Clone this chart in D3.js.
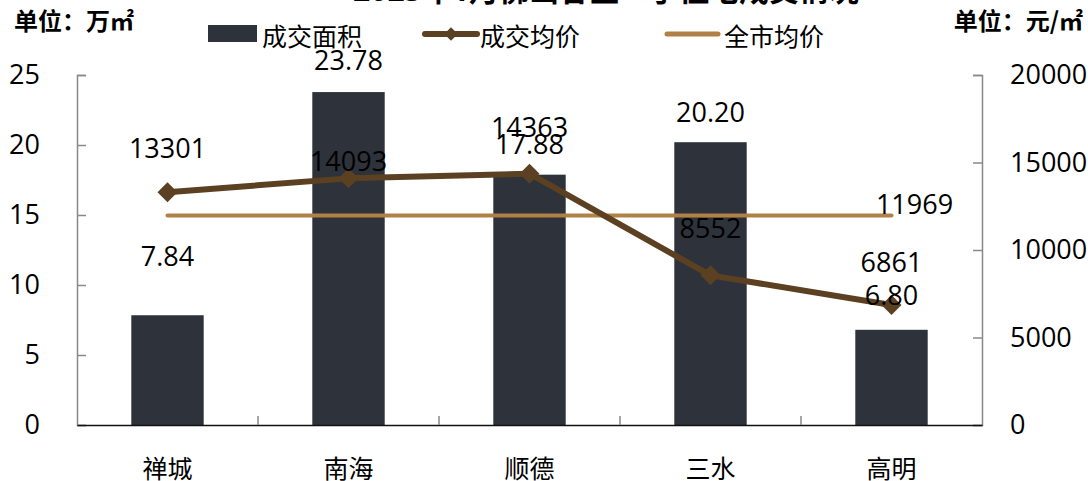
<!DOCTYPE html>
<html>
<head>
<meta charset="utf-8">
<script src="https://cdn.jsdelivr.net/npm/d3@7"></script>
<style>
  body { margin: 0; background: #fff; }
  text { font-family: "Open Sans", "Noto Sans CJK SC", sans-serif; }
</style>
</head>
<body>
<div id="chart"></div>
<script>
// Chart data
const categories = ['禅城', '南海', '顺德', '三水', '高明'];
const areaValues = [7.84, 23.78, 17.88, 20.20, 6.80];      // 成交面积, 万㎡
const priceValues = [13301, 14093, 14363, 8552, 6861];     // 成交均价, 元/㎡
const cityAverage = [11969, 11969, 11969, 11969, 11969];   // 全市均价
const leftTicks = [0, 5, 10, 15, 20, 25];
const rightTicks = [0, 5000, 10000, 15000, 20000];
const legendNames = ['成交面积', '成交均价', '全市均价'];

// label nudges (px above the mark) – hand placed in the original
const areaLabelLift = [59, 32, 30, 30, 34];
const priceLabelLift = [44, 17, 46, 47, 42];

const width = 1088, height = 481;
const plot = {left: 77, right: 982, top: 75, bottom: 425};

const barColor = '#2e323b';
const priceColor = '#5b4122';
const avgColor = '#b08046';

const svg = d3.select('#chart')
    .append('svg')
    .attr('width', width)
    .attr('height', height);

// Scales
const x = d3.scaleBand()
    .domain(categories)
    .range([plot.left, plot.right])
    .paddingInner(0.6)
    .paddingOuter(0.3);

const yLeft = d3.scaleLinear().domain([0, 25]).range([plot.bottom, plot.top]);
const yRight = d3.scaleLinear().domain([0, 20000]).range([plot.bottom, plot.top]);
const cx = d => x(d) + x.bandwidth() / 2;

// Title (cut off by the top edge in the original)
svg.append('text')
    .attr('x', 606)
    .attr('y', 1)
    .attr('text-anchor', 'middle')
    .style('font-size', '30px')
    .style('font-weight', 'bold')
    .text('2023年1月佛山各区一手住宅成交情况');

// Bars
svg.selectAll('.bar')
    .data(areaValues)
    .enter().append('rect')
    .attr('class', 'bar')
    .attr('x', (d, i) => x(categories[i]))
    .attr('y', d => yLeft(d))
    .attr('width', x.bandwidth())
    .attr('height', d => yLeft(0) - yLeft(d))
    .attr('fill', barColor);

// Left axis
const leftAxis = svg.append('g')
    .attr('transform', `translate(${plot.left},0)`)
    .call(d3.axisLeft(yLeft).tickValues(leftTicks).tickSize(-9).tickPadding(37));
leftAxis.select('.domain').attr('stroke', '#888').attr('stroke-width', 1.5);
leftAxis.selectAll('.tick line').attr('stroke', '#888').attr('stroke-width', 1.5);
leftAxis.selectAll('.tick text').style('font-size', '27px').attr('fill', '#000')
    .style('font-family', '"Open Sans", sans-serif');

// Right axis
const rightAxis = svg.append('g')
    .attr('transform', `translate(${plot.right},0)`)
    .call(d3.axisRight(yRight).tickValues(rightTicks).tickFormat(d3.format('d'))
        .tickSize(-9).tickPadding(28));
rightAxis.select('.domain').attr('stroke', '#888').attr('stroke-width', 1.5);
rightAxis.selectAll('.tick line').attr('stroke', '#888').attr('stroke-width', 1.5);
rightAxis.selectAll('.tick text').style('font-size', '27px').attr('fill', '#000')
    .style('font-family', '"Open Sans", sans-serif');

// Bottom axis: labels from the band scale, ticks on band boundaries
const bottomAxis = svg.append('g')
    .attr('transform', `translate(0,${plot.bottom})`)
    .call(d3.axisBottom(x).tickSize(0).tickPadding(35));
bottomAxis.select('.domain').attr('stroke', '#111').attr('stroke-width', 1.5);
bottomAxis.selectAll('.tick text').style('font-size', '25px').attr('fill', '#000')
    .style('font-family', '"Noto Sans CJK SC", sans-serif');

const boundaries = categories.slice(1).map(c => x(c) - x.step() * x.paddingInner() / 2);
svg.selectAll('.xtick')
    .data(boundaries)
    .enter().append('line')
    .attr('class', 'xtick')
    .attr('x1', d => d).attr('x2', d => d)
    .attr('y1', plot.bottom).attr('y2', plot.bottom - 9)
    .attr('stroke', '#888')
    .attr('stroke-width', 1.5);

// City average line
const avgLine = d3.line()
    .x((d, i) => cx(categories[i]))
    .y(d => yRight(d));

svg.append('path')
    .datum(cityAverage)
    .attr('d', avgLine)
    .attr('fill', 'none')
    .attr('stroke', avgColor)
    .attr('stroke-width', 4)
    .attr('stroke-linecap', 'round');

// Price line
svg.append('path')
    .datum(priceValues)
    .attr('d', avgLine)
    .attr('fill', 'none')
    .attr('stroke', priceColor)
    .attr('stroke-width', 6)
    .attr('stroke-linejoin', 'round');

const diamond = d3.symbol().type(d3.symbolSquare).size(200);
svg.selectAll('.marker')
    .data(priceValues)
    .enter().append('path')
    .attr('class', 'marker')
    .attr('d', diamond)
    .attr('transform', (d, i) => `translate(${cx(categories[i])},${yRight(d)}) rotate(45)`)
    .attr('fill', priceColor);

// Data labels
svg.selectAll('.area-label')
    .data(areaValues)
    .enter().append('text')
    .attr('class', 'area-label')
    .attr('x', (d, i) => cx(categories[i]))
    .attr('y', (d, i) => yLeft(d) - areaLabelLift[i])
    .attr('dy', '0.35em')
    .attr('text-anchor', 'middle')
    .style('font-size', '27px')
    .text(d => d.toFixed(2));

svg.selectAll('.price-label')
    .data(priceValues)
    .enter().append('text')
    .attr('class', 'price-label')
    .attr('x', (d, i) => cx(categories[i]))
    .attr('y', (d, i) => yRight(d) - priceLabelLift[i])
    .attr('dy', '0.35em')
    .attr('text-anchor', 'middle')
    .style('font-size', '27px')
    .text(d => d);

const lastIdx = cityAverage.length - 1;
svg.append('text')
    .attr('x', cx(categories[lastIdx]) + 23)
    .attr('y', yRight(cityAverage[lastIdx]) - 11)
    .attr('dy', '0.35em')
    .attr('text-anchor', 'middle')
    .style('font-size', '27px')
    .text(cityAverage[lastIdx]);

// Legend
const legend = svg.append('g').style('font-family', '"Noto Sans CJK SC", sans-serif');
legend.append('rect')
    .attr('x', 208).attr('y', 25)
    .attr('width', 49).attr('height', 17)
    .attr('fill', barColor);
legend.append('text').attr('x', 262).attr('y', 37).attr('dy', '0.35em')
    .style('font-size', '25px').text(legendNames[0]);

legend.append('line')
    .attr('x1', 425).attr('x2', 477).attr('y1', 34).attr('y2', 34)
    .attr('stroke', priceColor).attr('stroke-width', 6).attr('stroke-linecap', 'round');
legend.append('path')
    .attr('d', d3.symbol().type(d3.symbolSquare).size(90))
    .attr('transform', 'translate(451,34) rotate(45)')
    .attr('fill', priceColor);
legend.append('text').attr('x', 480).attr('y', 37).attr('dy', '0.35em')
    .style('font-size', '25px').text(legendNames[1]);

legend.append('line')
    .attr('x1', 667).attr('x2', 718).attr('y1', 34).attr('y2', 34)
    .attr('stroke', avgColor).attr('stroke-width', 5).attr('stroke-linecap', 'round');
legend.append('text').attr('x', 724).attr('y', 37).attr('dy', '0.35em')
    .style('font-size', '25px').text(legendNames[2]);

// Unit labels
svg.append('text')
    .attr('x', 14).attr('y', 22).attr('dy', '0.35em')
    .style('font-family', '"Noto Sans CJK SC", sans-serif')
    .style('font-size', '24px').style('font-weight', 'bold')
    .text('单位：万㎡');
svg.append('text')
    .attr('x', 1083).attr('y', 22).attr('dy', '0.35em')
    .attr('text-anchor', 'end')
    .style('font-family', '"Noto Sans CJK SC", sans-serif')
    .style('font-size', '24px').style('font-weight', 'bold')
    .text('单位：元/㎡');
</script>
</body>
</html>
